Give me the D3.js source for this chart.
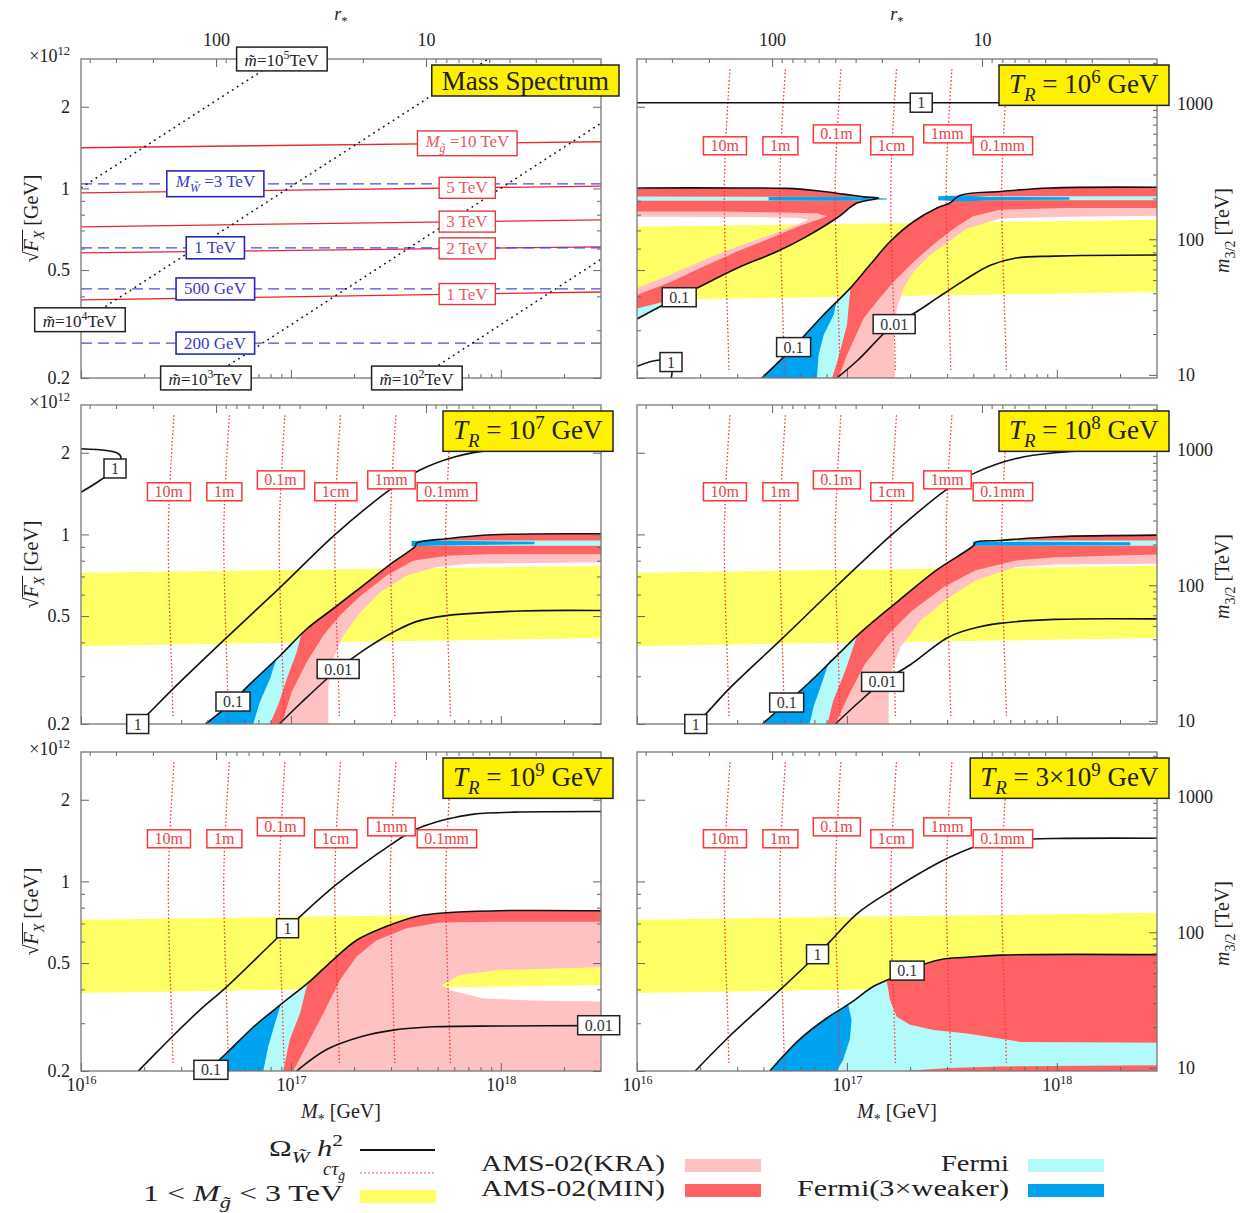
<!DOCTYPE html>
<html>
<head>
<meta charset="utf-8">
<script src="https://cdn.jsdelivr.net/npm/d3@7"></script>
<style>
  body { margin: 0; background: #fff; }
  text { font-family: "Liberation Serif", "DejaVu Serif", serif; }
</style>
</head>
<body>
<svg id="fig" width="1240" height="1213"></svg>
<script>
// values: [log10(M*/GeV), sqrt(F_X) in 1e12 GeV]

// ---- mass spectrum panel ----
const gluinoMasses = ['10 TeV', '5 TeV', '3 TeV', '2 TeV', '1 TeV'];
const gluinoFx = [[1.412, 1.486], [0.963, 1.02], [0.722, 0.766], [0.579, 0.609], [0.388, 0.415]]; // at M* = 1e16 and 3e18
const winoMasses = ['3 TeV', '1 TeV', '500 GeV', '200 GeV'];
const winoFx = [1.04, 0.604, 0.426, 0.269];
const scalarExp = ['5', '4', '3', '2'];
const scalarLines = [
  [[16.0, 1.005], [16.95, 3.0]],
  [[16.0, 0.321], [17.94, 3.0]],
  [[16.61, 0.2], [18.477, 1.74]],
  [[17.61, 0.2], [18.477, 0.548]]
];
const scalarLabelAt = [[16.957, 3.0], [15.995, 0.328], [16.595, 0.2], [17.6, 0.2]];
const gluinoLabelM = 17.84, winoLabelM = 16.64;

// ---- gluino decay length contours (same in every T_R panel) ----
const ctauNames = ['10m', '1m', '0.1m', '1cm', '1mm', '0.1mm'];
const ctauFx = [2.75, 1.674, 1.005, 0.555, 0.333, 0.214];
const ctauM = [
  [16.443, 16.426, 16.416, 16.421, 16.431, 16.438],
  [16.707, 16.69, 16.68, 16.686, 16.695, 16.702],
  [16.971, 16.955, 16.944, 16.95, 16.96, 16.967],
  [17.236, 17.219, 17.209, 17.214, 17.224, 17.231],
  [17.5, 17.483, 17.473, 17.479, 17.488, 17.495],
  [17.764, 17.748, 17.737, 17.743, 17.752, 17.76]
];
const ctauLabelAt = [[16.419, 1.436], [16.683, 1.436], [16.952, 1.589], [17.214, 1.436], [17.479, 1.589], [17.743, 1.436]];

// ---- T_R = 1e6 GeV ----
const tr6Omega1Top = [[16.0, 2.07], [18.48, 2.07]];
const tr6Omega1Low = [[16.0, 0.221], [16.11, 0.233], [16.16, 0.226], [16.167, 0.211], [16.157, 0.19]];
const tr6Omega01Left = [[16.0, 1.004], [16.476, 1.004], [16.714, 1.0], [16.857, 0.98], [16.984, 0.953], [17.08, 0.931], [17.151, 0.921], [17.048, 0.883], [16.952, 0.778], [16.794, 0.656], [16.667, 0.585], [16.476, 0.508], [16.286, 0.429], [16.201, 0.397], [16.111, 0.367], [16.0, 0.33]];
const tr6Omega01Right = [[16.595, 0.2], [16.746, 0.26], [16.889, 0.342], [17.016, 0.429], [17.111, 0.524], [17.206, 0.637], [17.318, 0.755], [17.429, 0.847], [17.49, 0.883], [17.538, 0.942], [17.729, 0.974], [17.967, 1.004], [18.48, 1.01]];
const tr6Omega001 = [[16.952, 0.2], [17.05, 0.232], [17.225, 0.316], [17.324, 0.348], [17.429, 0.394], [17.562, 0.46], [17.68, 0.52], [17.8, 0.553], [17.99, 0.563], [18.48, 0.568]];
const tr6PinkLeftInner = [[16.0, 0.429], [16.159, 0.48], [16.318, 0.545], [16.476, 0.61], [16.635, 0.674], [16.762, 0.735], [16.818, 0.766], [16.762, 0.78], [16.476, 0.785], [16.0, 0.787]];
const tr6RedLeftInner = [[16.0, 0.405], [16.159, 0.452], [16.318, 0.515], [16.476, 0.585], [16.635, 0.655], [16.762, 0.72], [16.857, 0.765], [16.905, 0.79], [16.857, 0.81], [16.635, 0.817], [16.397, 0.822], [16.0, 0.822]];
const tr6PinkRightEdge = [[18.48, 0.793], [18.05, 0.787], [17.73, 0.775], [17.57, 0.71], [17.49, 0.64], [17.397, 0.569], [17.318, 0.494], [17.27, 0.429], [17.238, 0.361], [17.222, 0.272], [17.23, 0.2]];
const tr6RedRightEdge = [[18.48, 0.847], [18.05, 0.847], [17.73, 0.835], [17.6, 0.79], [17.52, 0.72], [17.429, 0.637], [17.318, 0.537], [17.222, 0.453], [17.143, 0.383], [17.08, 0.332], [17.0, 0.243], [16.96, 0.2]];
const tr6Cyan = [
  [[16.0, 0.933], [17.14, 0.93], [17.14, 0.902], [16.0, 0.9]],
  [[16.0, 0.33], [16.111, 0.367], [16.2, 0.397], [16.1, 0.377], [16.0, 0.361]],
  [[16.595, 0.2], [16.746, 0.26], [16.889, 0.342], [17.016, 0.429], [17.016, 0.423], [17.0, 0.313], [16.952, 0.227], [16.929, 0.2]],
  [[17.44, 0.935], [18.48, 0.935], [18.48, 0.905], [17.44, 0.905]]
];
const tr6Blue = [
  [[16.627, 0.93], [17.0, 0.932], [17.19, 0.918], [17.19, 0.91], [17.0, 0.9], [16.627, 0.902]],
  [[16.595, 0.2], [16.746, 0.26], [16.889, 0.342], [16.95, 0.381], [16.937, 0.342], [16.889, 0.288], [16.865, 0.243], [16.857, 0.2]],
  [[17.435, 0.935], [17.56, 0.942], [17.67, 0.93], [18.06, 0.928], [18.06, 0.908], [17.67, 0.905], [17.56, 0.895], [17.435, 0.905]]
];
const tr6OmegaLabels = [['1', 17.354, 2.07], ['1', 16.162, 0.229], ['0.1', 16.201, 0.397], ['0.1', 16.746, 0.26], ['0.01', 17.225, 0.316]];

// ---- T_R = 1e7 GeV ----
const tr7Omega1Corner = [[16.0, 2.07], [16.12, 2.04], [16.17, 2.0], [16.19, 1.93], [16.165, 1.75], [16.09, 1.58], [16.0, 1.43]];
const tr7Omega1 = [[16.24, 0.19], [16.32, 0.218], [16.437, 0.269], [16.687, 0.412], [16.95, 0.639], [17.214, 1.005], [17.478, 1.474], [17.61, 1.72], [17.779, 1.93], [17.967, 2.05], [18.48, 2.08]];
const tr7Omega01 = [[16.593, 0.2], [16.724, 0.242], [16.789, 0.273], [16.948, 0.357], [17.075, 0.448], [17.201, 0.532], [17.344, 0.648], [17.487, 0.79], [17.59, 0.9], [17.6, 0.93], [17.741, 0.964], [17.963, 0.997], [18.48, 1.005]];
const tr7Omega001 = [[16.945, 0.2], [17.05, 0.24], [17.225, 0.319], [17.344, 0.373], [17.487, 0.436], [17.6, 0.478], [17.741, 0.502], [18.09, 0.522], [18.48, 0.524]];
const tr7PinkEdge = [[18.48, 0.79], [17.852, 0.779], [17.694, 0.758], [17.551, 0.706], [17.424, 0.611], [17.329, 0.514], [17.249, 0.424], [17.201, 0.348], [17.178, 0.277], [17.178, 0.2]];
const tr7RedEdge = [[18.48, 0.845], [17.932, 0.845], [17.741, 0.835], [17.582, 0.8], [17.456, 0.706], [17.329, 0.592], [17.233, 0.502], [17.154, 0.424], [17.075, 0.338], [17.003, 0.262], [16.956, 0.2]];
const tr7Cyan = [
  [[16.593, 0.2], [16.724, 0.242], [16.789, 0.273], [16.948, 0.357], [17.06, 0.435], [17.051, 0.43], [17.027, 0.368], [16.98, 0.293], [16.94, 0.236], [16.9, 0.2]],
  [[17.575, 0.95], [18.48, 0.95], [18.48, 0.908], [17.575, 0.908]]
];
const tr7Blue = [
  [[16.593, 0.2], [16.724, 0.242], [16.789, 0.273], [16.94, 0.355], [16.932, 0.35], [16.9, 0.293], [16.852, 0.241], [16.82, 0.2]],
  [[17.575, 0.945], [17.7, 0.948], [18.16, 0.94], [18.16, 0.92], [17.7, 0.91], [17.575, 0.905]]
];
const tr7OmegaLabels = [['1', 16.162, 1.75], ['1', 16.27, 0.2], ['0.1', 16.724, 0.242], ['0.01', 17.225, 0.319]];

// ---- T_R = 1e8 GeV ----
const tr8Omega1 = [[16.25, 0.19], [16.333, 0.22], [16.437, 0.269], [16.69, 0.412], [16.954, 0.648], [17.218, 1.005], [17.481, 1.474], [17.613, 1.69], [17.801, 1.9], [17.99, 2.0], [18.48, 2.06]];
const tr8Omega01 = [[16.597, 0.2], [16.713, 0.24], [16.794, 0.272], [16.945, 0.353], [17.067, 0.436], [17.237, 0.562], [17.425, 0.737], [17.604, 0.911], [17.612, 0.935], [17.726, 0.95], [17.99, 0.98], [18.48, 0.994]];
const tr8Omega001 = [[16.945, 0.2], [17.05, 0.238], [17.17, 0.286], [17.3, 0.33], [17.481, 0.417], [17.6, 0.45], [17.726, 0.47], [17.99, 0.486], [18.48, 0.488]];
const tr8PinkEdge = [[18.48, 0.779], [17.99, 0.774], [17.801, 0.758], [17.613, 0.676], [17.481, 0.582], [17.35, 0.481], [17.255, 0.384], [17.218, 0.323], [17.199, 0.258], [17.199, 0.2]];
const tr8RedEdge = [[18.48, 0.844], [17.99, 0.824], [17.801, 0.8], [17.613, 0.737], [17.462, 0.64], [17.312, 0.524], [17.199, 0.43], [17.086, 0.333], [17.011, 0.258], [16.945, 0.2]];
const tr8Cyan = [
  [[16.597, 0.2], [16.713, 0.24], [16.794, 0.272], [16.945, 0.353], [17.06, 0.43], [17.048, 0.424], [17.03, 0.384], [16.992, 0.314], [16.935, 0.244], [16.907, 0.2]],
  [[17.61, 0.95], [18.48, 0.95], [18.48, 0.908], [17.61, 0.908]]
];
const tr8Blue = [
  [[16.597, 0.2], [16.713, 0.24], [16.794, 0.272], [16.94, 0.35], [16.917, 0.343], [16.879, 0.281], [16.841, 0.231], [16.822, 0.2]],
  [[17.6, 0.94], [18.35, 0.935], [18.35, 0.912], [17.6, 0.908]]
];
const tr8OmegaLabels = [['1', 16.28, 0.2], ['0.1', 16.713, 0.24], ['0.01', 17.17, 0.286]];

// ---- T_R = 1e9 GeV ----
const tr9Omega1 = [[16.243, 0.19], [16.273, 0.2], [16.433, 0.267], [16.567, 0.336], [16.687, 0.404], [16.984, 0.672], [17.214, 0.971], [17.478, 1.37], [17.59, 1.55], [17.685, 1.65], [17.78, 1.72], [17.873, 1.77], [18.061, 1.8], [18.48, 1.81]];
const tr9Omega01 = [[16.6, 0.2], [16.694, 0.233], [16.82, 0.29], [16.948, 0.35], [17.09, 0.428], [17.201, 0.514], [17.313, 0.607], [17.456, 0.683], [17.598, 0.743], [17.757, 0.768], [17.995, 0.78], [18.48, 0.78]];
const tr9Omega001 = [[17.027, 0.2], [17.17, 0.24], [17.329, 0.267], [17.487, 0.283], [17.678, 0.291], [17.995, 0.293], [18.48, 0.294]];
const tr9PinkNotch = [[18.48, 0.483], [17.995, 0.472], [17.805, 0.452], [17.718, 0.415], [17.757, 0.398], [17.916, 0.37], [18.154, 0.364], [18.48, 0.361], [18.48, 0.2]];
const tr9RedEdge = [[18.48, 0.71], [17.995, 0.71], [17.71, 0.706], [17.551, 0.672], [17.408, 0.607], [17.313, 0.529], [17.233, 0.432], [17.154, 0.326], [17.09, 0.262], [17.011, 0.2]];
const tr9Cyan = [[16.6, 0.2], [16.694, 0.233], [16.82, 0.29], [16.948, 0.35], [17.082, 0.42], [17.075, 0.41], [17.043, 0.326], [16.995, 0.262], [16.963, 0.2]];
const tr9Blue = [[16.6, 0.2], [16.694, 0.233], [16.82, 0.29], [16.948, 0.35], [16.948, 0.345], [16.924, 0.3], [16.892, 0.246], [16.868, 0.2]];
const tr9OmegaLabels = [['1', 16.984, 0.672], ['0.1', 16.619, 0.202], ['0.01', 18.466, 0.295]];

// ---- T_R = 3e9 GeV ----
const tr39Omega1 = [[16.25, 0.19], [16.277, 0.2], [16.437, 0.267], [16.69, 0.404], [16.86, 0.539], [16.919, 0.6], [17.049, 0.761], [17.218, 0.932], [17.481, 1.219], [17.67, 1.388], [17.801, 1.424], [17.99, 1.44], [18.48, 1.443]];
const tr39Omega01 = [[16.633, 0.2], [16.776, 0.262], [16.903, 0.313], [17.014, 0.355], [17.125, 0.41], [17.189, 0.432], [17.287, 0.469], [17.443, 0.514], [17.57, 0.525], [17.729, 0.535], [18.48, 0.537]];
const tr39Cyan = [[16.633, 0.2], [16.776, 0.262], [16.903, 0.313], [17.014, 0.355], [17.125, 0.41], [17.189, 0.432], [17.205, 0.365], [17.237, 0.317], [17.3, 0.296], [17.411, 0.283], [17.57, 0.275], [17.824, 0.256], [18.48, 0.254], [18.48, 0.2]];
const tr39Red = [[17.189, 0.432], [17.287, 0.469], [17.443, 0.514], [17.57, 0.525], [17.729, 0.535], [18.48, 0.537], [18.48, 0.254], [17.824, 0.256], [17.57, 0.275], [17.411, 0.283], [17.3, 0.296], [17.237, 0.317], [17.205, 0.365]];
const tr39RedLow = [[17.27, 0.2], [17.49, 0.205], [17.729, 0.208], [18.48, 0.21], [18.48, 0.2]];
const tr39Blue = [[16.633, 0.2], [16.776, 0.262], [16.903, 0.313], [17.006, 0.352], [17.022, 0.309], [17.014, 0.262], [16.982, 0.22], [16.951, 0.2]];
const tr39OmegaLabels = [['1', 16.86, 0.539], ['0.1', 17.287, 0.469]];

// ---- tick values ----
const fxMajor = [0.2, 0.5, 1, 2];
const fxMinor = [0.3, 0.4, 0.6, 0.7, 0.8, 0.9];
const rMajor = [10, 100];
const rMinor = [2, 3, 4, 5, 6, 7, 8, 9, 20, 30, 40, 50, 60, 70, 80, 90, 200, 300, 400];
const mMajor = [1e16, 1e17, 1e18];
const mMinor = [2e16, 3e16, 4e16, 5e16, 6e16, 7e16, 8e16, 9e16, 2e17, 3e17, 4e17, 5e17, 6e17, 7e17, 8e17, 9e17, 2e18];
const gMajor = [10, 100, 1000];
const gMinor = [20, 30, 40, 50, 60, 70, 80, 90, 200, 300, 400, 500, 600, 700, 800, 900, 2000];

const COL = { pink: '#ffc2c3', red: '#ff6262', cyan: '#b3fbfb', blue: '#00a3f0', band: '#ffff66', title: '#fff000' };

const panels = [
  { c: 0, r: 0, mass: true },
  { c: 1, r: 0, title: [[' = 10', ''], ['6', 'sup']],
    lines: [tr6Omega1Top, tr6Omega1Low, tr6Omega01Left, tr6Omega01Right, tr6Omega001],
    regions: [[COL.pink, tr6Omega01Left.concat(tr6PinkLeftInner)], [COL.pink, tr6Omega01Right.concat(tr6PinkRightEdge)],
      [COL.red, tr6Omega01Left.concat(tr6RedLeftInner)], [COL.red, tr6Omega01Right.concat(tr6RedRightEdge)],
      ...tr6Cyan.map(d => [COL.cyan, d]), ...tr6Blue.map(d => [COL.blue, d])],
    labels: tr6OmegaLabels },
  { c: 0, r: 1, title: [[' = 10', ''], ['7', 'sup']],
    lines: [tr7Omega1Corner, tr7Omega1, tr7Omega01, tr7Omega001],
    regions: [[COL.pink, tr7Omega01.concat(tr7PinkEdge)], [COL.red, tr7Omega01.concat(tr7RedEdge)],
      ...tr7Cyan.map(d => [COL.cyan, d]), ...tr7Blue.map(d => [COL.blue, d])],
    labels: tr7OmegaLabels },
  { c: 1, r: 1, title: [[' = 10', ''], ['8', 'sup']],
    lines: [tr8Omega1, tr8Omega01, tr8Omega001],
    regions: [[COL.pink, tr8Omega01.concat(tr8PinkEdge)], [COL.red, tr8Omega01.concat(tr8RedEdge)],
      ...tr8Cyan.map(d => [COL.cyan, d]), ...tr8Blue.map(d => [COL.blue, d])],
    labels: tr8OmegaLabels },
  { c: 0, r: 2, title: [[' = 10', ''], ['9', 'sup']],
    lines: [tr9Omega1, tr9Omega01, tr9Omega001],
    regions: [[COL.pink, tr9Omega01.concat(tr9PinkNotch)], [COL.red, tr9Omega01.concat(tr9RedEdge)],
      [COL.cyan, tr9Cyan], [COL.blue, tr9Blue]],
    labels: tr9OmegaLabels },
  { c: 1, r: 2, title: [[' = 3×10', ''], ['9', 'sup']],
    lines: [tr39Omega1, tr39Omega01],
    regions: [[COL.cyan, tr39Cyan], [COL.red, tr39Red], [COL.red, tr39RedLow], [COL.blue, tr39Blue]],
    labels: tr39OmegaLabels }
];

// ---- layout & scales ----
const W = 520, H = 319;
const colX = [81, 637], rowY = [59, 405, 752];
const x = d3.scaleLog().domain([1e16, 3e18]).range([0, W]);
const y = d3.scaleLog().domain([0.2, 3.0]).range([H, 0]);
const m32 = s => (s * 1e12) ** 2 / (Math.sqrt(3) * 2.435e18) / 1e3;   // TeV
const yG = d3.scaleLog().domain([m32(0.2), m32(3.0)]).range([H, 0]);
const rNorm = 4.4e18;
const xR = d3.scaleLog().domain([rNorm / 1e16, rNorm / 3e18]).range([0, W]);

const px = p => x(10 ** p[0]), py = p => y(p[1]);
const smooth = d3.line().x(px).y(py).curve(d3.curveCatmullRom.alpha(0.5));
const straight = d3.line().x(px).y(py);
const poly = d3.line().x(px).y(py).curve(d3.curveLinearClosed);

const svg = d3.select('#fig');
const defs = svg.append('defs');

function rich(parent, parts, size) {
  const t = parent.append('text').attr('font-size', size);
  let cur = 0;
  for (const [str, k] of parts) {
    const ts = t.append('tspan').text(str);
    let off = 0, fs = size;
    if (k.includes('sub')) { off = 0.28 * size; fs = 0.7 * size; }
    if (k.includes('sup')) { off = -0.4 * size; fs = 0.7 * size; }
    if (off !== cur) ts.attr('dy', off - cur);
    ts.attr('font-size', fs);
    if (k[0] === 'i') ts.attr('font-style', 'italic');
    cur = off;
  }
  return t;
}

function boxLabel(parent, ax, ay, parts, o) {
  const g = parent.append('g');
  const t = rich(g, parts, o.size).attr('fill', o.color);
  const b = t.node().getBBox();
  const bw = b.width + 2 * o.px, bh = b.height + 2 * o.py;
  g.insert('rect', 'text').attr('x', b.x - o.px).attr('y', b.y - o.py)
    .attr('width', bw).attr('height', bh)
    .attr('fill', o.fill).attr('stroke', o.stroke).attr('stroke-width', o.sw || 1.3);
  let tx, ty;
  if (o.topRight) { tx = ax - (b.x - o.px + bw); ty = ay - (b.y - o.py); }
  else { tx = ax - (b.x + b.width / 2); ty = ay - (b.y + b.height / 2); }
  g.attr('transform', `translate(${tx},${ty})`);
  return g;
}

const omegaStyle = { size: 16, color: '#333', fill: '#fff', stroke: '#222', px: 7, py: 1, sw: 1.5 };
const ctauStyle = { size: 16, color: '#e84545', fill: '#fff', stroke: '#ff3535', px: 7, py: 0.5, sw: 1.5 };
const redStyle = { size: 17, color: '#e65a5a', fill: '#fff', stroke: '#e23a3a', px: 7, py: 1, sw: 1.4 };
const blueStyle = { size: 17, color: '#3a3ac8', fill: '#fff', stroke: '#2828b8', px: 8, py: 1.5, sw: 1.6 };
const blackStyle = { size: 17, color: '#222', fill: '#fff', stroke: '#222', px: 8, py: 1, sw: 1.5 };
const titleStyle = { size: 27, color: '#222', fill: COL.title, stroke: '#222', px: 10, py: 0.5, sw: 1.5, topRight: true };

function axes(g, p) {
  const put = (axis, tx, ty) => g.append('g').attr('transform', `translate(${tx},${ty})`).call(axis)
    .call(a => a.select('.domain').remove())
    .attr('font-size', 18).attr('font-family', null).attr('color', '#666')
    .call(a => a.selectAll('text').attr('fill', '#222'));
  const none = () => '';
  // left
  put(d3.axisLeft(y).tickValues(fxMajor).tickSize(-8).tickPadding(11)
    .tickFormat(p.c === 0 ? d => String(d) : none), 0, 0);
  put(d3.axisLeft(y).tickValues(fxMinor).tickSize(-4).tickFormat(none), 0, 0);
  // right
  if (p.c === 0) {
    put(d3.axisRight(y).tickValues(fxMajor).tickSize(-8).tickFormat(none), W, 0);
    put(d3.axisRight(y).tickValues(fxMinor).tickSize(-4).tickFormat(none), W, 0);
  } else {
    put(d3.axisRight(yG).tickValues(gMajor).tickSize(-8).tickPadding(20).tickFormat(d => String(d)), W, 0);
    put(d3.axisRight(yG).tickValues(gMinor).tickSize(-4).tickFormat(none), W, 0);
  }
  // top: r_*
  put(d3.axisTop(xR).tickValues(rMajor).tickSize(-8).tickPadding(13)
    .tickFormat(p.r === 0 ? d => String(d) : none), 0, 0);
  put(d3.axisTop(xR).tickValues(rMinor).tickSize(-4).tickFormat(none), 0, 0);
  // bottom: M_*
  const bx = put(d3.axisBottom(x).tickValues(mMajor).tickSize(-8).tickPadding(7)
    .tickFormat(p.r === 2 ? d => String(Math.round(Math.log10(d))) : none), 0, H);
  if (p.r === 2) {
    bx.selectAll('.tick text').each(function () {
      const t = d3.select(this), e = t.text();
      t.text('');
      t.append('tspan').text('10');
      t.append('tspan').attr('dy', -7).attr('font-size', 12).text(e);
    });
  }
  put(d3.axisBottom(x).tickValues(mMinor).tickSize(-4).tickFormat(none), 0, H);
}

panels.forEach((p, i) => {
  const g = svg.append('g').attr('transform', `translate(${colX[p.c]},${rowY[p.r]})`);
  defs.append('clipPath').attr('id', 'clip' + i).append('rect').attr('width', W).attr('height', H);
  const plot = g.append('g').attr('clip-path', `url(#clip${i})`);

  if (p.mass) {
    gluinoFx.forEach(v => plot.append('path').attr('d', straight([[16, v[0]], [18.477, v[1]]]))
      .attr('fill', 'none').attr('stroke', '#e8282c').attr('stroke-width', 1.3));
    winoFx.forEach(v => plot.append('path').attr('d', straight([[16, v], [18.477, v]]))
      .attr('fill', 'none').attr('stroke', '#4a4ae0').attr('stroke-width', 1.3).attr('stroke-dasharray', '11,6'));
    scalarLines.forEach(d => plot.append('path').attr('d', straight(d))
      .attr('fill', 'none').attr('stroke', '#111').attr('stroke-width', 1.5).attr('stroke-dasharray', '1.8,4'));
  } else {
    const band = [[16, gluinoFx[2][0]], [18.477, gluinoFx[2][1]], [18.477, gluinoFx[4][1]], [16, gluinoFx[4][0]]];
    plot.append('path').attr('d', poly(band)).attr('fill', COL.band);
    p.regions.forEach(([fill, d]) => plot.append('path').attr('d', poly(d)).attr('fill', fill));
    ctauM.forEach(ms => plot.append('path').attr('d', smooth(ms.map((m, k) => [m, ctauFx[k]])))
      .attr('fill', 'none').attr('stroke', '#ff3030').attr('stroke-width', 1.3).attr('stroke-dasharray', '1.5,2.2'));
    p.lines.forEach(d => plot.append('path').attr('d', smooth(d))
      .attr('fill', 'none').attr('stroke', '#111').attr('stroke-width', 1.6));
  }

  axes(g, p);
  g.append('rect').attr('width', W).attr('height', H).attr('fill', 'none').attr('stroke', '#777').attr('stroke-width', 1.3);

  if (p.mass) {
    const f = (gluinoLabelM - 16) / (18.477 - 16);
    gluinoFx.forEach((v, k) => {
      const s = v[0] * (v[1] / v[0]) ** f;
      const parts = k === 0 ? [['M', 'i'], ['g\u0303', 'isub'], [' =10 TeV', '']] : [[gluinoMasses[k], '']];
      boxLabel(g, x(10 ** gluinoLabelM), y(s), parts, redStyle);
    });
    winoFx.forEach((v, k) => {
      const parts = k === 0 ? [['M', 'i'], ['W\u0303', 'isub'], [' =3 TeV', '']] : [[winoMasses[k], '']];
      boxLabel(g, x(10 ** winoLabelM), y(v), parts, blueStyle);
    });
    scalarLabelAt.forEach((a, k) => boxLabel(g, px(a), py(a),
      [['m\u0303', 'i'], ['=10', ''], [scalarExp[k], 'sup'], ['TeV', '']], blackStyle));
    boxLabel(g, W + 18, 6, [['Mass Spectrum', '']], titleStyle);
  } else {
    ctauLabelAt.forEach((a, k) => boxLabel(g, px(a), py(a), [[ctauNames[k], '']], ctauStyle));
    p.labels.forEach(([t, m, s]) => boxLabel(g, px([m, s]), py([m, s]), [[t, '']], omegaStyle));
    boxLabel(g, W + 12, 6, [['T', 'i'], ['R', 'isub'], ...p.title, [' GeV', '']], titleStyle);
  }
});

// ---- axis titles ----
[0, 1].forEach(c => {
  const cx = colX[c] + W / 2;
  rich(svg, [['r', 'i'], ['*', 'sub']], 18).attr('x', cx).attr('y', 20).attr('text-anchor', 'middle').attr('fill', '#222');
  rich(svg, [['M', 'i'], ['*', 'sub'], [' [GeV]', '']], 20).attr('x', cx).attr('y', 1118).attr('text-anchor', 'middle').attr('fill', '#222');
});
rowY.forEach(ry => {
  rich(svg, [['×10', ''], ['12', 'sup']], 18).attr('x', 70).attr('y', ry + 3).attr('text-anchor', 'end').attr('fill', '#222');
  const gl = svg.append('g').attr('transform', `translate(38,${ry + H / 2}) rotate(-90)`);
  const t = rich(gl, [['√', ''], ['F', 'i'], ['X', 'isub'], [' [GeV]', '']], 20).attr('text-anchor', 'middle').attr('fill', '#222');
  const n = t.node();
  const x0 = n.getStartPositionOfChar(1).x, x1 = n.getEndPositionOfChar(2).x;
  gl.append('line').attr('x1', x0).attr('x2', x1 + 1).attr('y1', -15.5).attr('y2', -15.5).attr('stroke', '#222').attr('stroke-width', 1);
  const gr = svg.append('g').attr('transform', `translate(1229,${ry + H / 2 + 12}) rotate(-90)`);
  rich(gr, [['m', 'i'], ['3/2', 'sub'], [' [TeV]', '']], 20).attr('text-anchor', 'middle').attr('fill', '#222');
});

// ---- legend ----
const lg = svg.append('g').attr('fill', '#222');
rich(lg, [['Ω', ''], ['W\u0303', 'isub'], [' h', 'i'], ['2', 'sup']], 24).attr('x', 343).attr('y', 1156)
  .attr('text-anchor', 'end').attr('textLength', 74).attr('lengthAdjust', 'spacingAndGlyphs');
lg.append('line').attr('x1', 360).attr('x2', 435).attr('y1', 1150).attr('y2', 1150).attr('stroke', '#111').attr('stroke-width', 2);
rich(lg, [['cτ', 'i'], ['g\u0303', 'isub']], 19).attr('x', 345).attr('y', 1175).attr('text-anchor', 'end');
lg.append('line').attr('x1', 360).attr('x2', 435).attr('y1', 1173).attr('y2', 1173).attr('stroke', '#ff5050').attr('stroke-width', 1.2).attr('stroke-dasharray', '2,2');
rich(lg, [['1 < ', ''], ['M', 'i'], ['g\u0303', 'isub'], [' < 3 TeV', '']], 24).attr('x', 343).attr('y', 1201)
  .attr('text-anchor', 'end').attr('textLength', 200).attr('lengthAdjust', 'spacingAndGlyphs');
lg.append('rect').attr('x', 360).attr('y', 1190).attr('width', 76).attr('height', 13).attr('fill', COL.band);

const legendRects = [
  ['AMS-02(KRA)', COL.pink, 481, 'start', 184, 685, 1171],
  ['AMS-02(MIN)', COL.red, 481, 'start', 184, 685, 1196],
  ['Fermi', COL.cyan, 1009, 'end', 68, 1028, 1171],
  ['Fermi(3×weaker)', COL.blue, 1009, 'end', 212, 1028, 1196]
];
legendRects.forEach(([name, fill, tx, anchor, len, rx, by]) => {
  lg.append('text').attr('x', tx).attr('y', by).attr('font-size', 23).attr('text-anchor', anchor)
    .attr('textLength', len).attr('lengthAdjust', 'spacingAndGlyphs').text(name);
  lg.append('rect').attr('x', rx).attr('y', by - 12).attr('width', 76).attr('height', 13).attr('fill', fill);
});
</script>
</body>
</html>
